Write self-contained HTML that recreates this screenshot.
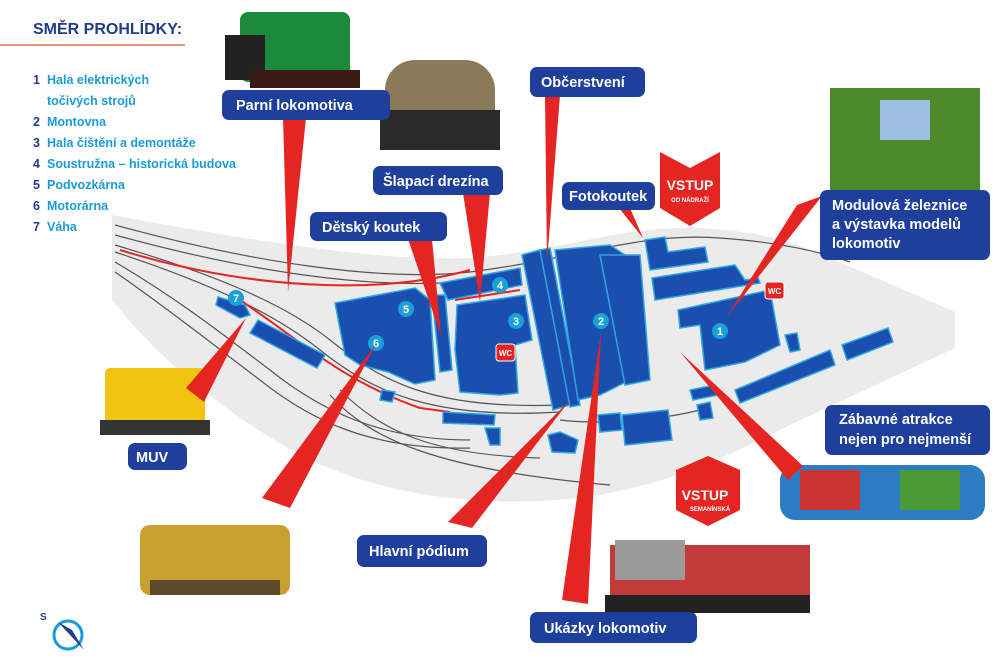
<!DOCTYPE html>
<html><head><meta charset="utf-8"><style>
body{margin:0;width:1000px;height:661px;overflow:hidden;background:#fff;font-family:"Liberation Sans",sans-serif}
svg{display:block}
.lb{fill:#1f3f9c}
.lt{fill:#fff;font-weight:bold;font-size:14.5px;font-family:"Liberation Sans",sans-serif}
.b{fill:#1a4fb0;stroke:#2fa6e0;stroke-width:1.5}
.tr{fill:none;stroke:#555;stroke-width:1.2}
.rw{fill:#e52521}
.leg{font-weight:bold;font-size:12.5px;font-family:"Liberation Sans",sans-serif}
</style></head><body>
<svg width="1000" height="661" viewBox="0 0 1000 661">
<!-- gray ground -->
<path d="M112,215 C250,240 380,262 470,258 C560,252 620,225 700,228 C770,232 800,245 830,258 L955,312 L955,348 L790,425 C720,460 660,490 560,500 C470,506 380,495 300,455 C220,410 160,360 112,300 Z" fill="#ebebeb"/>
<!-- tracks -->
<g class="tr">
<path d="M115,225 C250,262 380,282 470,272 C580,258 640,232 720,238 C790,243 830,255 850,262"/>
<path d="M115,235 C250,272 380,292 480,280"/>
<path d="M115,245 C200,270 280,300 330,340 C380,380 430,410 560,405"/>
<path d="M115,252 C200,280 270,310 320,350 C370,390 430,420 560,412"/>
<path d="M115,262 C180,300 230,340 270,370 C320,410 380,440 470,440"/>
<path d="M115,272 C170,310 220,350 260,380 C310,420 370,450 470,448"/>
<path d="M340,390 C380,430 430,455 540,458"/>
<path d="M330,395 C370,440 440,470 610,485"/>
<path d="M560,420 C600,425 660,420 700,410"/>
</g>
<path d="M120,250 C250,290 380,295 470,270" fill="none" stroke="#e52521" stroke-width="2"/>
<path d="M240,300 C300,340 340,380 420,408 L450,412" fill="none" stroke="#e52521" stroke-width="2"/>
<path d="M455,300 L520,290" fill="none" stroke="#e52521" stroke-width="2"/>
<!-- buildings -->
<g class="b">
<path d="M218,297 L245,305 L250,315 L240,318 L216,305Z"/>
<path d="M258,320 L325,355 L317,368 L250,333Z"/>
<path d="M335,303 L415,288 L430,300 L435,380 L415,384 L388,372 L360,365 L345,355Z"/>
<path d="M432,295 L445,295 L452,370 L440,372Z"/>
<path d="M440,283 L520,268 L522,285 L448,300Z"/>
<path d="M457,305 L525,295 L532,340 L515,345 L518,393 L500,395 L460,392 L455,350Z"/>
<path d="M522,255 L540,250 L570,405 L553,410Z"/>
<path d="M540,250 L550,248 L580,405 L570,407Z"/>
<path d="M555,250 L610,245 L625,255 L640,375 L600,395 L578,400Z"/>
<path d="M600,255 L640,255 L650,380 L625,385Z"/>
<path d="M645,240 L665,237 L668,252 L705,247 L708,262 L650,270Z"/>
<path d="M652,278 L735,265 L745,280 L758,278 L760,283 L655,300Z"/>
<path d="M678,310 L770,290 L780,345 L745,362 L705,370 L700,325 L680,328Z"/>
<path d="M785,335 L797,333 L800,350 L790,352Z"/>
<path d="M735,390 L830,350 L835,365 L740,403Z"/>
<path d="M842,345 L888,328 L893,342 L847,360Z"/>
<path d="M690,390 L715,385 L718,395 L693,400Z"/>
<path d="M697,405 L710,402 L713,418 L700,420Z"/>
<path d="M622,415 L668,410 L672,440 L625,445Z"/>
<path d="M443,412 L495,415 L494,425 L443,423Z"/>
<path d="M382,390 L395,392 L392,402 L380,400Z"/>
<path d="M485,428 L500,428 L500,445 L490,445Z"/>
<path d="M548,435 L560,432 L578,440 L575,453 L552,452Z"/>
<path d="M598,415 L620,413 L622,430 L600,432Z"/>
</g>
<!-- numbers -->
<g font-family="Liberation Sans" font-weight="bold" font-size="11" fill="#fff" text-anchor="middle">
<circle cx="236" cy="298" r="8" fill="#1aa0d8"/><text x="236" y="302">7</text>
<circle cx="406" cy="309" r="8" fill="#1aa0d8"/><text x="406" y="313">5</text>
<circle cx="376" cy="343" r="8" fill="#1aa0d8"/><text x="376" y="347">6</text>
<circle cx="500" cy="285" r="8" fill="#1aa0d8"/><text x="500" y="289">4</text>
<circle cx="516" cy="321" r="8" fill="#1aa0d8"/><text x="516" y="325">3</text>
<circle cx="601" cy="321" r="8" fill="#1aa0d8"/><text x="601" y="325">2</text>
<circle cx="720" cy="331" r="8" fill="#1aa0d8"/><text x="720" y="335">1</text>
</g>
<rect x="496" y="344" width="19" height="17" rx="3" fill="#e52521" stroke="#fff"/><text x="505.5" y="356" font-size="8" font-weight="bold" fill="#fff" text-anchor="middle">WC</text>
<rect x="765" y="282" width="19" height="17" rx="3" fill="#e52521" stroke="#fff"/><text x="774.5" y="294" font-size="8" font-weight="bold" fill="#fff" text-anchor="middle">WC</text>
<!-- pictures -->
<rect x="240" y="12" width="110" height="70" rx="8" fill="#1b8a3a"/><rect x="225" y="35" width="40" height="45" fill="#222"/><rect x="250" y="70" width="110" height="18" fill="#3a1a15"/>
<rect x="385" y="60" width="110" height="85" rx="30" fill="#8a7a5a"/><rect x="380" y="110" width="120" height="40" fill="#2a2a2a"/>
<rect x="830" y="88" width="150" height="102" fill="#4e8a2c"/><rect x="880" y="100" width="50" height="40" fill="#9cbfe0"/>
<rect x="105" y="368" width="100" height="55" rx="5" fill="#f1c40f"/><rect x="100" y="420" width="110" height="15" fill="#333"/>
<rect x="140" y="525" width="150" height="70" rx="10" fill="#c9a030"/><rect x="150" y="580" width="130" height="15" fill="#5a4a2a"/>
<rect x="610" y="545" width="200" height="50" fill="#c23a3a"/><rect x="615" y="540" width="70" height="40" fill="#9a9a9a"/><rect x="605" y="595" width="205" height="18" fill="#222"/>
<rect x="780" y="465" width="205" height="55" rx="15" fill="#2c7dc4"/><rect x="800" y="470" width="60" height="40" fill="#c33"/><rect x="900" y="470" width="60" height="40" fill="#4a9a3a"/>
<!-- red wedges -->
<g class="rw">
<polygon points="283,118 306,118 288,292"/>
<polygon points="463,193 490,193 480,302"/>
<polygon points="545,95 560,95 547,262"/>
<polygon points="619,208 630,208 643,238"/>
<polygon points="408,239 432,239 441,336"/>
<polygon points="797,205 822,196 726,318"/>
<polygon points="186,388 204,402 246,318"/>
<polygon points="262,498 290,508 376,344"/>
<polygon points="448,522 472,528 570,400"/>
<polygon points="562,600 588,604 601,332"/>
<polygon points="803,466 788,480 680,352"/>
<polygon points="660,152 690,168 720,152 720,208 690,226 660,208"/>
<polygon points="676,470 708,456 740,470 740,510 708,526 676,510"/>
</g>
<g font-family="Liberation Sans" font-weight="bold" fill="#fff" text-anchor="middle">
<text x="690" y="190" font-size="14">VSTUP</text><text x="690" y="202" font-size="6">OD NÁDRAŽÍ</text>
<text x="705" y="500" font-size="14">VSTUP</text><text x="710" y="511" font-size="6">SEMANÍNSKÁ</text>
</g>
<!-- labels -->
<rect class="lb" x="222" y="90" width="168" height="30" rx="7"/><text class="lt" x="236" y="110">Parní lokomotiva</text>
<rect class="lb" x="373" y="166" width="130" height="29" rx="7"/><text class="lt" x="383" y="186">Šlapací drezína</text>
<rect class="lb" x="530" y="67" width="115" height="30" rx="7"/><text class="lt" x="541" y="87">Občerstvení</text>
<rect class="lb" x="562" y="182" width="93" height="28" rx="7"/><text class="lt" x="569" y="201">Fotokoutek</text>
<rect class="lb" x="310" y="212" width="137" height="29" rx="7"/><text class="lt" x="322" y="232">Dětský koutek</text>
<rect class="lb" x="820" y="190" width="170" height="70" rx="7"/><text class="lt" x="832" y="210">Modulová železnice</text><text class="lt" x="832" y="229">a výstavka modelů</text><text class="lt" x="832" y="248">lokomotiv</text>
<rect class="lb" x="128" y="443" width="59" height="27" rx="7"/><text class="lt" x="136" y="462">MUV</text>
<rect class="lb" x="825" y="405" width="165" height="50" rx="7"/><text class="lt" x="839" y="424">Zábavné atrakce</text><text class="lt" x="839" y="444">nejen pro nejmenší</text>
<rect class="lb" x="357" y="535" width="130" height="32" rx="7"/><text class="lt" x="369" y="556">Hlavní pódium</text>
<rect class="lb" x="530" y="612" width="167" height="31" rx="7"/><text class="lt" x="544" y="633">Ukázky lokomotiv</text>
<!-- legend -->
<text x="33" y="34" font-size="16" font-weight="bold" fill="#223c8c">SMĚR PROHLÍDKY:</text>
<line x1="0" y1="45" x2="185" y2="45" stroke="#e07050" stroke-width="1.5"/>
<g class="leg">
<text x="33" y="84" fill="#223c8c">1</text><text x="47" y="84" fill="#1a9bd7">Hala elektrických</text>
<text x="47" y="105" fill="#1a9bd7">točivých strojů</text>
<text x="33" y="126" fill="#223c8c">2</text><text x="47" y="126" fill="#1a9bd7">Montovna</text>
<text x="33" y="147" fill="#223c8c">3</text><text x="47" y="147" fill="#1a9bd7">Hala čištění a demontáže</text>
<text x="33" y="168" fill="#223c8c">4</text><text x="47" y="168" fill="#1a9bd7">Soustružna – historická budova</text>
<text x="33" y="189" fill="#223c8c">5</text><text x="47" y="189" fill="#1a9bd7">Podvozkárna</text>
<text x="33" y="210" fill="#223c8c">6</text><text x="47" y="210" fill="#1a9bd7">Motorárna</text>
<text x="33" y="231" fill="#223c8c">7</text><text x="47" y="231" fill="#1a9bd7">Váha</text>
</g>
<!-- compass -->
<circle cx="68" cy="635" r="14" fill="none" stroke="#1a9bd7" stroke-width="3"/>
<polygon points="58,622 84,650 72,630" fill="#223c8c"/>
<text x="40" y="620" font-size="10" font-weight="bold" fill="#223c8c">S</text>
</svg>
</body></html>
